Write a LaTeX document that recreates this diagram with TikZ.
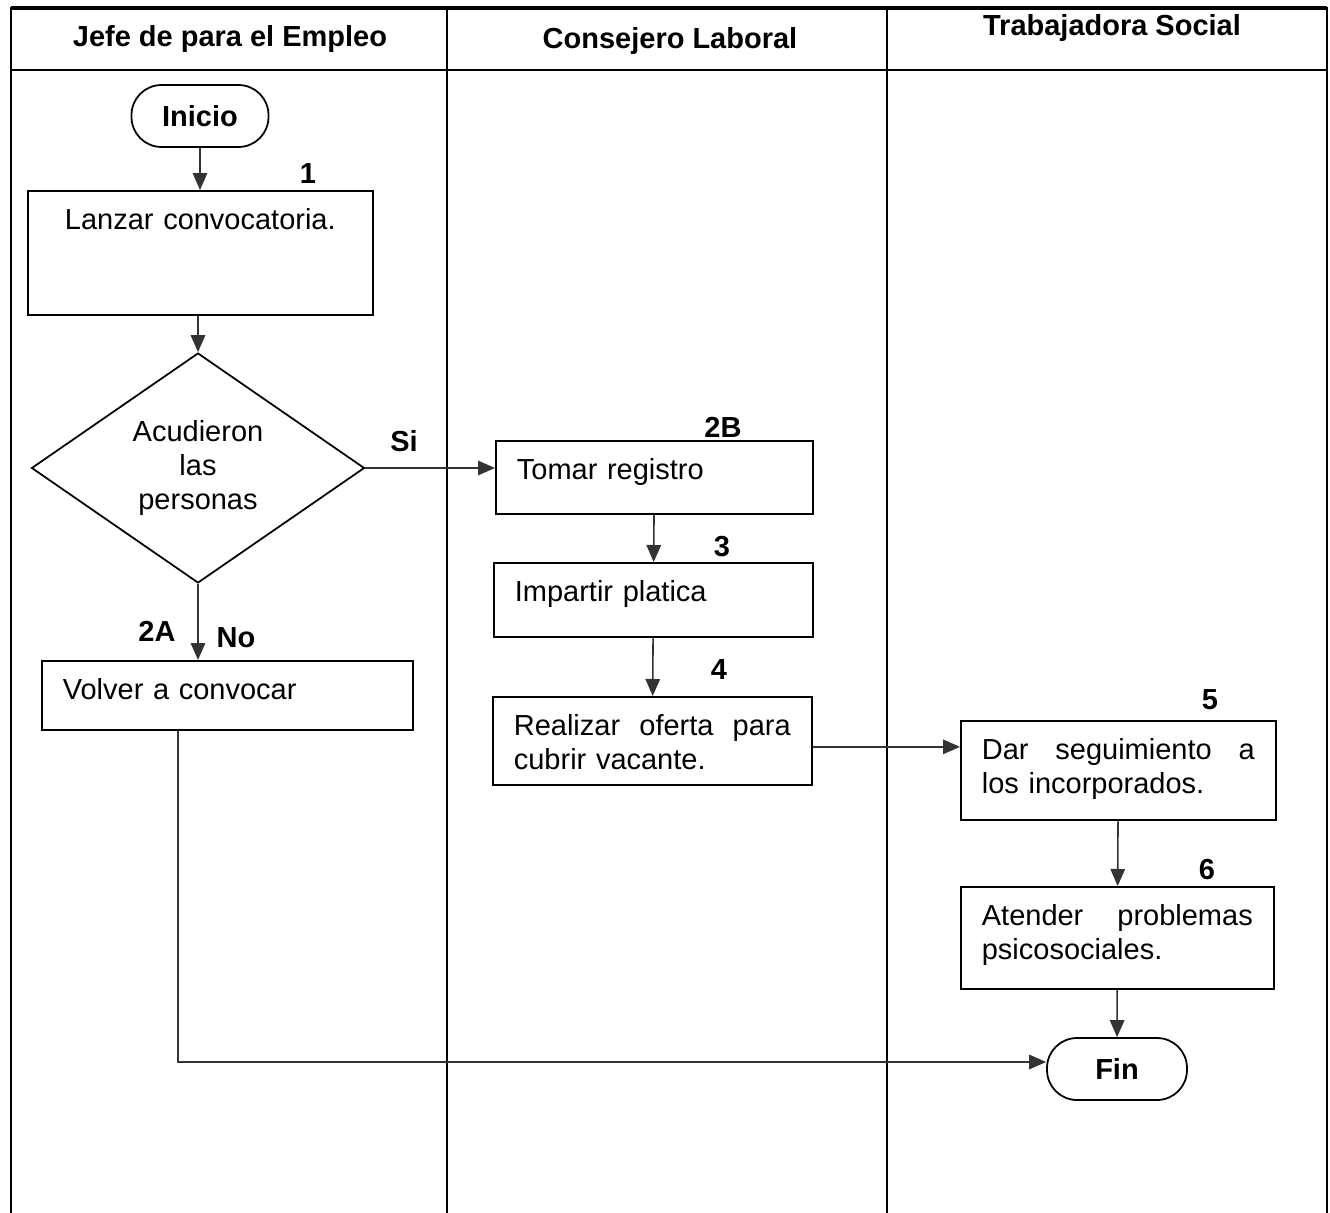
\documentclass[tikz,border=0pt]{standalone}
\usepackage{fontspec}
\setmainfont{Liberation Sans}
\usetikzlibrary{shapes.geometric,arrows.meta}

\begin{document}
\begin{tikzpicture}[%
    x=0.02cm,
    y=-0.02cm,
    font=\fontsize{16.5}{19.3}\selectfont,
    >={Triangle[length=0.34cm,width=0.29cm]},
    flow/.style={->, line width=0.9pt, draw=black!80},
    lane/.style={line width=1.6pt},
    term/.style={%
      draw,
      line width=1pt,
      rounded corners=0.6cm,
      minimum width=2.74cm,
      minimum height=1.24cm,
      font=\fontsize{16.5}{19.3}\selectfont\bfseries
    },
    paso/.style={%
      draw,
      line width=1pt,
      rectangle,
      inner xsep=0.42cm,
      inner ysep=0pt,
      align=left,
      text height=0.78cm,
      anchor=north west
    },
    decision/.style={%
      diamond,
      draw,
      line width=1pt,
      aspect=1.45,
      minimum width=6.66cm,
      minimum height=4.6cm,
      inner sep=0pt,
      align=center
    },
    num/.style={font=\fontsize{16.5}{19.3}\selectfont\bfseries}
  ]
    \useasboundingbox (0,0) rectangle (1330,1213);

    % carriles
    \draw[lane] (11,1213) -- (11,8) -- (1327,8) -- (1327,1213);
    \draw[line width=2.2pt] (11,8) -- (1327,8);
    \draw[lane] (11,70) -- (1327,70);
    \draw[lane] (447,8) -- (447,1213);
    \draw[lane] (887,8) -- (887,1213);

    \node[num] (jefe)  at (230,39)  {Jefe de para el Empleo};
    \node[num] (cons)  at (670,41)  {Consejero Laboral};
    \node[num] (trab)  at (1112,28) {Trabajadora Social};

    % pasos
    \node[term] (ini) at (200,116) {Inicio};
    \node[paso, align=center, text width=6.06cm, text depth=1.70cm] (b1) at (27,190) {Lanzar convocatoria.};
    \node[decision] (dec) at (198,468) {Acudieron\\las\\personas};
    \node[paso, text width=5.50cm, text depth=0.68cm] (b2b) at (495,440) {Tomar registro};
    \node[paso, text width=5.54cm, text depth=0.70cm] (b3)  at (493,562) {Impartir platica};
    \node[paso, text width=5.54cm, text depth=0.98cm] (b4)  at (492,696) {Realizar\hfill oferta\hfill para\\cubrir vacante.};
    \node[paso, text width=5.46cm, text depth=1.20cm] (b5)  at (960,720) {Dar\hfill seguimiento\hfill a\\los incorporados.};
    \node[paso, text width=5.42cm, text depth=1.26cm] (b6)  at (960,886) {Atender\hfill problemas\\psicosociales.};
    \node[paso, text width=6.58cm, text depth=0.60cm] (b2a) at (41,660)  {Volver a convocar};
    \node[term, minimum width=2.8cm] (fin) at (1117,1069) {Fin};

    \node[num] (n1)  at (308,174)  {1};
    \node[num] (n2b) at (723,427)  {2B};
    \node[num] (n3)  at (722,547)  {3};
    \node[num] (n4)  at (719,670)  {4};
    \node[num] (n5)  at (1210,700) {5};
    \node[num] (n6)  at (1207,870) {6};
    \node[num] (n2a) at (157,631)  {2A};
    \node[num] (si)  at (404,441)  {Si};
    \node[num] (no)  at (236,638)  {No};

    \path (b2b) edge[flow] (b3)
          (b3)  edge[flow] (b4)
          (b5)  edge[flow] (b6)
          (b6)  edge[flow] (fin)
          ;
    \draw[flow] (ini.south) -- (ini.south |- b1.north);
    \draw[flow] (dec.north |- b1.south) -- (dec.north);
    \draw[flow] (dec.east) -- (dec.east -| b2b.west);
    \draw[flow] (dec.south) -- (dec.south |- b2a.north);
    \draw[flow] ([yshift=-0.12cm]b4.east) -- ([yshift=-0.12cm]b4.east -| b5.west);
    \draw[flow] ([xshift=-0.99cm]b2a.south) |- ([yshift=0.14cm]fin.west);
  \end{tikzpicture}
\end{document}
